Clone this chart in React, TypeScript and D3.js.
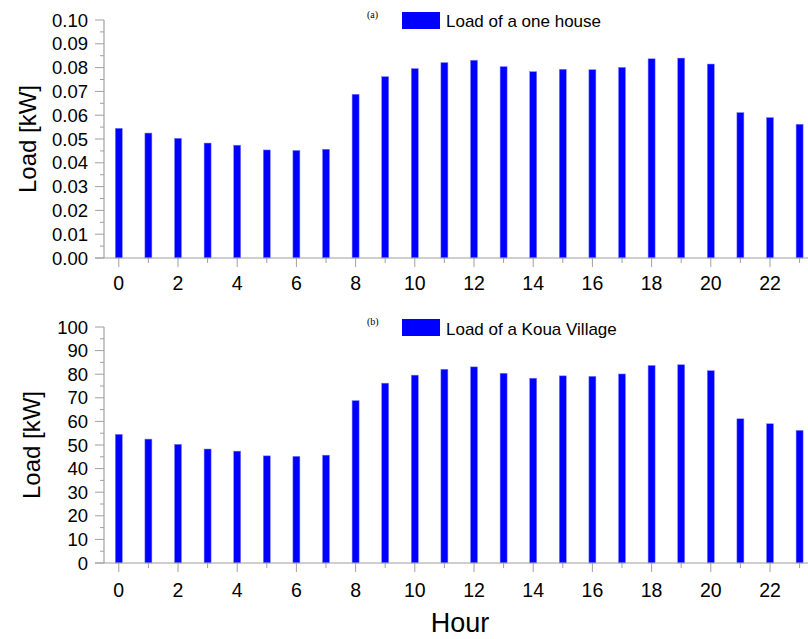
import React from "react";
import * as d3 from "d3";

const hours = d3.range(0, 24);
const houseLoad = [0.0545, 0.0525, 0.0503, 0.0483, 0.0474, 0.0454, 0.0452, 0.0457, 0.0688, 0.0762, 0.0796, 0.0821, 0.0831, 0.0804, 0.0783, 0.0793, 0.0791, 0.0801, 0.0837, 0.084, 0.0815, 0.0611, 0.059, 0.0562];
const villageLoad = [54.5, 52.5, 50.3, 48.3, 47.4, 45.4, 45.2, 45.7, 68.8, 76.2, 79.6, 82.1, 83.1, 80.4, 78.3, 79.3, 79.1, 80.1, 83.7, 84.0, 81.5, 61.1, 59.0, 56.2];
const houseTicks = d3.range(0, 11).map((i) => i / 100);
const villageTicks = d3.range(0, 11).map((i) => i * 10);
const xTickLabels = d3.range(0, 24, 2);

const FONT = "'Liberation Sans', Arial, sans-serif";
const AXIS = "#a0a0a0";
const BAR = "#0000ff";

type PanelProps = {
  values: number[];
  yMax: number;
  ticks: number[];
  fmt: (v: number) => string;
  top: number;
  bottom: number;
  tag: string;
  legend: string;
  legendTop: number;
  legendBaseline: number;
  labelBaseline: number;
  yLabelX: number;
};

function Panel(p: PanelProps) {
  const x = d3.scaleLinear().domain([-0.5, 23.5]).range([104, 104 + 24 * 29.6]);
  const y = d3.scaleLinear().domain([0, p.yMax]).range([p.bottom, p.top]);
  const step = p.ticks[1] - p.ticks[0];
  const minor = p.ticks.slice(0, -1).map((t) => t + step / 2);
  const barW = 7;
  return (
    <g>
      {p.values.map((v, i) => (
        <rect key={i} x={x(hours[i]) - barW / 2} y={y(v)} width={barW} height={y(0) - y(v)} fill={BAR} stroke="#8080ff" strokeWidth={0.5} />
      ))}
      <line x1={104} x2={104} y1={p.top} y2={p.bottom} stroke={AXIS} strokeWidth={1.2} />
      <line x1={95} x2={808} y1={p.bottom} y2={p.bottom} stroke={AXIS} strokeWidth={1.2} />
      {p.ticks.map((t) => (
        <g key={"y" + t}>
          <line x1={95} x2={104} y1={y(t)} y2={y(t)} stroke={AXIS} strokeWidth={1} />
          <text x={88} y={y(t)} dy="0.36em" textAnchor="end" fontSize={18.5} fontFamily={FONT} fill="#000">
            {p.fmt(t)}
          </text>
        </g>
      ))}
      {minor.map((t) => (
        <line key={"m" + t} x1={100} x2={104} y1={y(t)} y2={y(t)} stroke={AXIS} strokeWidth={1} />
      ))}
      {hours.map((h) => (
        <line key={"xt" + h} x1={x(h)} x2={x(h)} y1={p.bottom} y2={p.bottom + (h % 2 === 0 ? 9 : 5)} stroke={AXIS} strokeWidth={1} />
      ))}
      {xTickLabels.map((h) => (
        <text key={"xl" + h} x={x(h)} y={p.labelBaseline} textAnchor="middle" fontSize={19.5} fontFamily={FONT} fill="#000">
          {h}
        </text>
      ))}
      <text transform={`translate(${p.yLabelX},${(p.top + p.bottom) / 2}) rotate(-90)`} textAnchor="middle" fontSize={24} fontFamily={FONT} fill="#000">
        Load [kW]
      </text>
      <text x={367} y={p.legendTop + 6} fontSize={10} fontFamily="'Liberation Serif', serif" fill="#000">
        {p.tag}
      </text>
      <rect x={402} y={p.legendTop} width={38} height={17} fill={BAR} />
      <text x={446} y={p.legendBaseline} fontSize={17} fontFamily={FONT} fill="#000">
        {p.legend}
      </text>
    </g>
  );
}

export default function App() {
  return (
    <svg width={808} height={639} style={{ position: "absolute", left: 0, top: 0, background: "#fff" }}>
      <rect width={808} height={639} fill="#fff" />
      <Panel values={houseLoad} yMax={0.1} ticks={houseTicks} fmt={(v) => v.toFixed(2)} top={20} bottom={258} tag="(a)" legend="Load of a one house" legendTop={12} legendBaseline={27} labelBaseline={290} yLabelX={36} />
      <Panel values={villageLoad} yMax={100} ticks={villageTicks} fmt={(v) => String(v)} top={327} bottom={563} tag="(b)" legend="Load of a Koua Village" legendTop={319} legendBaseline={335} labelBaseline={597} yLabelX={40} />
      <text x={460} y={632} textAnchor="middle" fontSize={27} fontFamily={FONT} fill="#000">
        Hour
      </text>
    </svg>
  );
}
